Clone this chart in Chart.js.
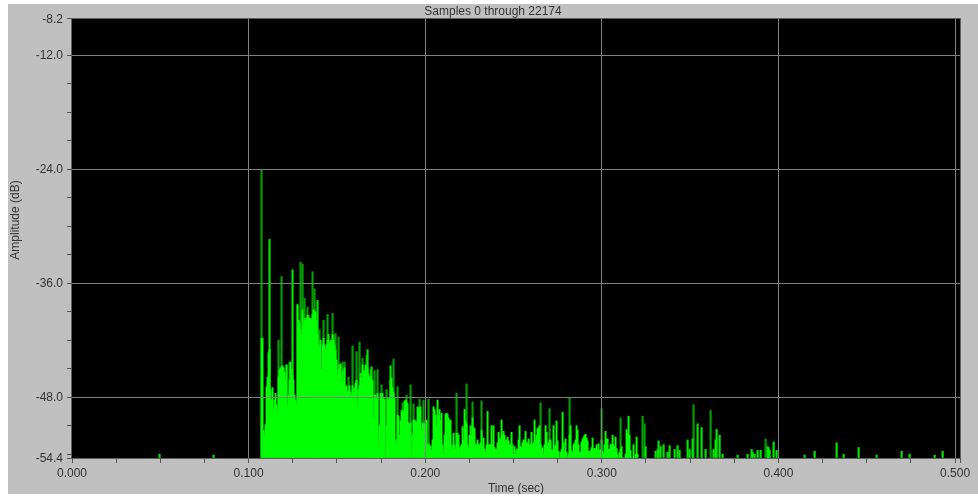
<!DOCTYPE html>
<html>
<head>
<meta charset="utf-8">
<script src="https://cdn.jsdelivr.net/npm/chart.js@4/dist/chart.umd.min.js"></script>
<style>
  html, body { margin: 0; background: #fff; overflow: hidden; }
  #wrap { position: absolute; left: 8px; top: 4px; width: 970px; height: 490px; background: #c0c0c0; }
</style>
</head>
<body>
<div id="wrap"><canvas id="spectrum" width="970" height="490"></canvas></div>
<script>
// one bin is about one column of the original trace
const binSec = 0.0005663;
const bodyFirstBin = 189;
const xMax = 0.5028;
const yMin = -54.4;
const yMax = -8.2;

const xLabels = [0, 0.1, 0.2, 0.3, 0.4, 0.5];
const xMinor = [0.025, 0.05, 0.075, 0.125, 0.15, 0.175, 0.225, 0.25, 0.275, 0.325, 0.35, 0.375, 0.425, 0.45, 0.475, 0.5028];
const yLabels = [-8.2, -12, -24, -36, -48, -54.4];
const yMinor = [-15, -18, -21, -27, -30, -33, -39, -42, -45, -51, -54];

// main body of the decay, bright green
const bodyDb = [
  -41.8,-41.8,-51.5,-52,-50.9,-46.9,-45.9,-43.3,-43,-47.2,-48.3,-47,-49.3,-48.3,-47.6,-48.8,-49.7,-45.9,-45.1,-44.9,
  -44.9,-44.7,-44.9,-45.3,-46.2,-44.6,-48.8,-47.8,-46.2,-44.3,-45.1,-45.7,-46.2,-47.8,-48.3,-48.8,-38.3,-39.9,-40.1,-40.9,
  -41.4,-38.8,-40.4,-39.7,-39.9,-39.7,-39.4,-39.4,-39.7,-39.7,-39.9,-39.3,-38.8,-39,-39,-39.9,-41.4,-42.5,-42.7,-42,
  -45.1,-42.5,-41.8,-42.5,-43,-42.5,-42,-41.4,-42.2,-42,-42.5,-41.4,-42,-42.5,-43,-44.1,-45.7,-45.1,-44.6,
  -44.5,-46.3,-45.2,-46.3,-44.9,-47,-46.8,-47.5,-47.3,-46.8,
  -47.5,-47.8,-46.8,-47.5,-47,-46.5,-46.2,-49.1,-47.2,-46.8,
  -45.5,-46,-44.6,-45.4,-45.2,-44.6,-45.8,-44.9,-45.6,-46,
  -45.8,-46.4,-46.2,-50.2,-47.8,-47.8,-48,-47.6,-53,-51,
  -47.6,-47.8,-47.6,-48,-48.2,-54.4,-51,-48,-48.3,-48.1,
  -46.2,-46,-47,-47.5,-48,-52.5,-53,-49.9,-50,-52,
  -50.5,-49.4,-49.4,-49.6,-48.4,-48.3,-48.5,-48.7,-50.7,-50.9,
  -50.7,-54.4,-52,-50.4,-50.4,-50.5,-50.6,-49,-49.1,-49.3,
  -49,-51.5,-50.7,-50.9,-50.8,-50.5,-50.4,-52.9,-53,-53,
  -53.2,-53.6,-52.5,-49,-49.3,-49.9,-51,-48.3,-50,-49.3,
  -50.5,-49.7,-53,-54,-52,-49.8,-49.7,-49.8,-50.2,-50.5,
  -50.4,-53,-53.5,-51.8,-53,-53.5,-51.8,-51.8,-52,-53.5,
  -53.2,-53,-51.1,-52.5,-49.3,-50.5,-50.8,-53,-53.4,-52,
  -51,-52,-50.2,-51.2,-51.3,-53,-53,-52.5,-53,-53,
  -52.8,-51.5,-53,-52.3,-53.5,-53.8,-53,-49.5,-53,-53,
  -53,-51,-53,-51,-53.3,-53.5,-53.5,-52.8,-51.7,-52.3,
  -52.5,-50.4,-52,-51.6,-52,-52.8,-52.5,-52.2,-52.6,-53,
  -53,-51.7,-53,-54,-53.2,-54,-53.5,-53.5,-52.5,-51,
  -53.2,-53.3,-52.8,-52.5,-52.5,-51.6,-52.8,-52.8,-52.4,-53,
  -53,-51.7,-53,-52.8,-50.4,-52.5,-52,-51.3,-51.2,-51,
  -53,-53.5,-53.3,-54,-53,-51,-51.7,-53,-52.8,-52.5,
  -52.5,-53.5,-53.6,-51,-53.2,-53,-50.5,-52.6,-53.7,-54.4,
  -53.8,-53.5,-49.6,-52.8,-53.7,-52.4,-53.8,-54.4,-54,-52,
  -51,-53.7,-53.9,-53,-52.8,-52.5,-51,-51.5,-53,-53.8,
  -53.8,-52.7,-52.4,-52.2,-52,-51.9,-52.3,-52.6,-53.7,-53.8,
  -53.6,-53.3,-52.3,-53.5,-53.4,-53.4,-53,-53.5,-52.9,-53.6,
  -53.5,-52.5,-53.7,-54,-53,-51.6,-52.4,-52.4,-53.5,-53.5,
  -53,-53,-52,-53,-53.2,-52.2,-53.4,-54,-54.4,-53.8,
  -53.5,-53.2,-54.4,-54.4,-54.4,-54,-51.4,-51.8,-50,-52,
  -53.6,-54.4,-54.4,-53,-54.4,-54,-52.2,-54
];

// thin peaks that look darker in the trace
const darkBins = [189,206,209,214,217,225,228,230,232,235,240,242,247,251,255,259,260,262,263,266,270,272,276,280,284,287,290,294,298,302,305,309,314,321,325,330,334,338,341,347,351,356,384,394,400,409,468,477,497,529,548,570,572,621,638,693];
const darkDb = [-24.1,-42,-35.3,-44.6,-44.3,-38.2,-33.8,-34,-37.6,-38.5,-34.8,-36.6,-40.9,-39.9,-39.3,-42,-39.2,-41.4,-41.3,-41.7,-44.3,-44.3,-45.9,-42.6,-43.2,-42.2,-43.9,-43.6,-45.1,-45.2,-45.1,-46.7,-47.2,-44,-46.9,-48.6,-47.8,-46.7,-48.7,-48.2,-48.3,-48.2,-47.6,-46.6,-48.5,-48.4,-48.6,-49.2,-48,-49.2,-50.2,-50,-50.8,-48.8,-49.4,-52.4];

// bright isolated peaks and the sparse tail
const peakBins = [87,141,197,220,245,295,299,318,573,583,585,586,588,591,595,597,602,605,607,615,617,620,625,629,633,641,643,644,647,650,665,675,679,680,682,685,688,695,696,697,701,704,732,742,764,771,786,804,829,837,862,870];
const peakDb = [-54,-54.1,-31.4,-34.6,-37.8,-43,-44.8,-44.7,-53.2,-53.7,-53.5,-52.6,-53.2,-53,-53.8,-53.1,-53.5,-53.1,-53.6,-52.5,-53.5,-52.4,-50.8,-51.2,-53.5,-53.5,-52.5,-51.4,-52,-54,-54.1,-54,-53.5,-53.8,-54,-53.6,-53.6,-53.2,-53.3,-53.6,-52.7,-53.6,-54.1,-53.7,-52.8,-54,-53.3,-54.1,-53.7,-54,-54.1,-53.7];

function binPoints(bins, values) {
  return values.map((v, i) => ({ x: (bins[i] + 0.5) * binSec, y: v }));
}
const bodyPoints = bodyDb.map((v, i) => ({ x: (bodyFirstBin + i + 0.5) * binSec, y: v }));

const plotFrame = {
  id: 'plotFrame',
  beforeDatasetsDraw(chart) {
    const a = chart.chartArea;
    chart.ctx.fillStyle = '#000';
    chart.ctx.fillRect(a.left, a.top, a.width, a.height);
  },
  afterDatasetsDraw(chart) {
    const a = chart.chartArea;
    const c = chart.ctx;
    c.strokeStyle = '#606060';
    c.lineWidth = 1;
    c.strokeRect(a.left - 0.5, a.top - 0.5, a.width + 1, a.height + 1);
  }
};

// the y title sits above the middle of the axis in the original
const yCaption = {
  id: 'yCaption',
  afterDraw(chart) {
    const c = chart.ctx;
    c.save();
    c.translate(8, 216);
    c.rotate(-Math.PI / 2);
    c.font = '12px "Liberation Sans"';
    c.fillStyle = '#333';
    c.textAlign = 'center';
    c.textBaseline = 'middle';
    c.fillText('Amplitude (dB)', 0, 0);
    c.restore();
  }
};

const barStyle = { grouped: false, base: yMin, borderWidth: 0 };

new Chart(document.getElementById('spectrum'), {
  type: 'bar',
  data: {
    // first dataset is painted last, so the body goes on top
    datasets: [
      { label: 'Amplitude', data: bodyPoints, backgroundColor: '#00ff00', barThickness: 1.3, ...barStyle },
      { label: 'Tail', data: binPoints(peakBins, peakDb), backgroundColor: '#00e800', barThickness: 1.5, ...barStyle },
      { label: 'Peaks', data: binPoints(darkBins, darkDb), backgroundColor: '#00a000', barThickness: 1.5, ...barStyle }
    ]
  },
  options: {
    responsive: false,
    animation: false,
    layout: { padding: { top: 0, right: 18, bottom: 0, left: 18 } },
    plugins: {
      legend: { display: false },
      tooltip: { enabled: false },
      title: {
        display: true,
        text: 'Samples 0 through 22174',
        color: '#333',
        font: { family: 'Liberation Sans', size: 12, weight: 'normal' },
        padding: { top: 0, bottom: 0.6 }
      }
    },
    scales: {
      x: {
        type: 'linear',
        min: 0,
        max: xMax,
        offset: false,
        afterBuildTicks(s) { s.ticks = xLabels.concat(xMinor).sort((a, b) => a - b).map(v => ({ value: v })); },
        afterFit(s) { s.height = 36; },
        grid: {
          offset: false,
          z: 1,
          tickLength: 5,
          color: c => (c.tick && xLabels.includes(c.tick.value) && c.tick.value > 0 ? '#808080' : 'rgba(0,0,0,0)'),
          tickColor: '#555'
        },
        border: { display: false },
        ticks: {
          autoSkip: false,
          maxRotation: 0,
          padding: 3,
          color: '#333',
          font: { family: 'Liberation Sans', size: 12 },
          callback: v => (xLabels.includes(v) ? v.toFixed(3) : '')
        },
        title: {
          display: true,
          text: 'Time (sec)',
          color: '#333',
          font: { family: 'Liberation Sans', size: 12 },
          padding: { top: 0, bottom: -2 }
        }
      },
      y: {
        min: yMin,
        max: yMax,
        afterBuildTicks(s) { s.ticks = yLabels.concat(yMinor).sort((a, b) => a - b).map(v => ({ value: v })); },
        afterFit(s) { s.width = 46; },
        grid: {
          z: 1,
          tickLength: 5,
          color: c => (c.tick && yLabels.includes(c.tick.value) && c.tick.value !== yMin && c.tick.value !== yMax ? '#808080' : 'rgba(0,0,0,0)'),
          tickColor: '#555'
        },
        border: { display: false },
        ticks: {
          autoSkip: false,
          padding: 4,
          labelOffset: 1,
          color: '#333',
          font: { family: 'Liberation Sans', size: 12 },
          callback: v => (yLabels.includes(v) ? v.toFixed(1) : '')
        }
      }
    }
  },
  plugins: [plotFrame, yCaption]
});
</script>
</body>
</html>
